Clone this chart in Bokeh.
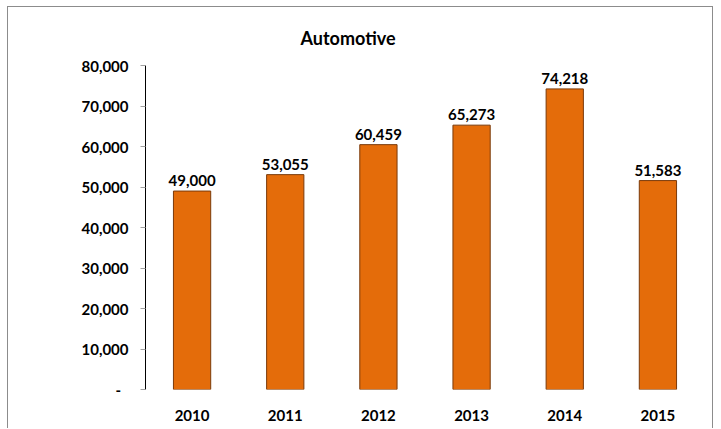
from bokeh.plotting import figure
from bokeh.models import ColumnDataSource, NumeralTickFormatter
from bokeh.core.properties import value
from bokeh.embed import file_html
from bokeh.resources import INLINE

years = ["2010", "2011", "2012", "2013", "2014", "2015"]
sales = [49000, 53055, 60459, 65273, 74218, 51583]
labels = [f"{v:,}" for v in sales]
title_text = "Automotive"

FONT = "Lato"

src = ColumnDataSource(dict(x=years, top=sales, lab=labels))

p = figure(x_range=years, y_range=(0, 80000), width=706, height=422,
           output_backend="svg", toolbar_location=None,
           min_border_left=137, min_border_right=10, min_border_top=58, min_border_bottom=40)
p.styles = {"margin-left": "7px", "margin-top": "6px",
            "border-left": "1px solid #8C8C8C", "border-top": "1px solid #8C8C8C",
            "border-right": "1px solid #8C8C8C"}

p.title.text = title_text
p.title.align = "left"
p.title.offset = 155
p.title.text_font = FONT
p.title.text_font_style = "bold"
p.title.text_font_size = "18px"
p.title.text_color = "#000000"
p.title.standoff = 33

p.vbar(x="x", top="top", width=0.4, source=src, fill_color="#E46C0A",
       line_color="#7A3A0A", line_width=1)
p.text(x="x", y="top", text="lab", source=src, text_align="center",
       text_baseline="bottom", y_offset=-5, text_font=value(FONT),
       text_font_style="bold", text_font_size="15px", text_color="#000000")

p.xgrid.grid_line_color = None
p.ygrid.grid_line_color = None
p.outline_line_color = None
p.background_fill_color = "white"
p.border_fill_color = "white"

p.yaxis.formatter = NumeralTickFormatter(format="0,0")
p.yaxis.major_label_overrides = {0: "-  "}
p.yaxis.axis_line_color = "#000000"
p.yaxis.major_tick_line_color = "#A0A0A0"
p.yaxis.major_tick_out = 5
p.yaxis.major_tick_in = 0
p.yaxis.minor_tick_line_color = None
p.yaxis.major_label_standoff = 12
p.yaxis.ticker.desired_num_ticks = 9

for ax in (p.xaxis, p.yaxis):
    ax.major_label_text_font = FONT
    ax.major_label_text_font_style = "bold"
    ax.major_label_text_font_size = "15px"
    ax.major_label_text_color = "#000000"

p.xaxis.axis_line_color = None
p.xaxis.major_tick_line_color = None
p.xaxis.minor_tick_line_color = None
p.xaxis.major_label_standoff = 14

open("out.html", "w").write(file_html(p, INLINE))
